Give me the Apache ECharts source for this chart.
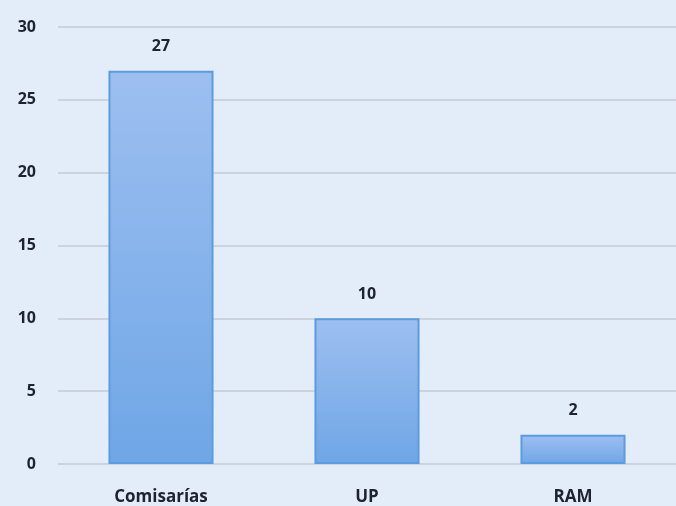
<!DOCTYPE html>
<html>
<head>
<meta charset="utf-8">
<script src="https://cdn.jsdelivr.net/npm/echarts@6/dist/echarts.min.js"></script>
<style>
  html, body { margin: 0; padding: 0; background: #e3ecf9; }
  #chart { width: 676px; height: 506px; }
</style>
</head>
<body>
<div id="chart"></div>
<script>
var categories = ['Comisarías', 'UP', 'RAM'];
var values = [27, 10, 2];
var yTicks = [0, 5, 10, 15, 20, 25, 30];

var myChart = echarts.init(document.getElementById('chart'));

var option = {
  backgroundColor: '#e3ecf9',
  textStyle: { fontFamily: 'Open Sans' },
  grid: {
    left: 58,
    right: -2,
    top: 27,
    bottom: 41
  },
  xAxis: {
    type: 'category',
    data: categories,
    axisLine: { show: false },
    axisTick: { show: false },
    axisLabel: {
      margin: 25,
      color: '#1f2230',
      fontSize: 17,
      fontWeight: 'bold',
      fontFamily: 'Open Sans'
    }
  },
  yAxis: {
    type: 'value',
    min: yTicks[0],
    max: yTicks[yTicks.length - 1],
    interval: 5,
    axisLine: { show: false },
    axisTick: { show: false },
    axisLabel: {
      margin: 22,
      color: '#1f2230',
      fontSize: 16,
      fontWeight: 'bold',
      fontFamily: 'Open Sans'
    },
    splitLine: { lineStyle: { color: '#cdd3dd', width: 2 } }
  },
  series: [
    {
      name: 'valor',
      type: 'bar',
      data: values,
      barWidth: '51%',
      itemStyle: {
        color: new echarts.graphic.LinearGradient(0, 0, 0, 1, [
          { offset: 0, color: '#9dbff0' },
          { offset: 1, color: '#6fa6e6' }
        ]),
        borderColor: '#5b9ce0',
        borderWidth: 2
      },
      label: {
        show: true,
        position: 'top',
        distance: 16,
        color: '#1f2230',
        fontSize: 16,
        fontWeight: 'bold',
        fontFamily: 'Open Sans'
      }
    }
  ]
};
myChart.setOption(option);
</script>
</body>
</html>
